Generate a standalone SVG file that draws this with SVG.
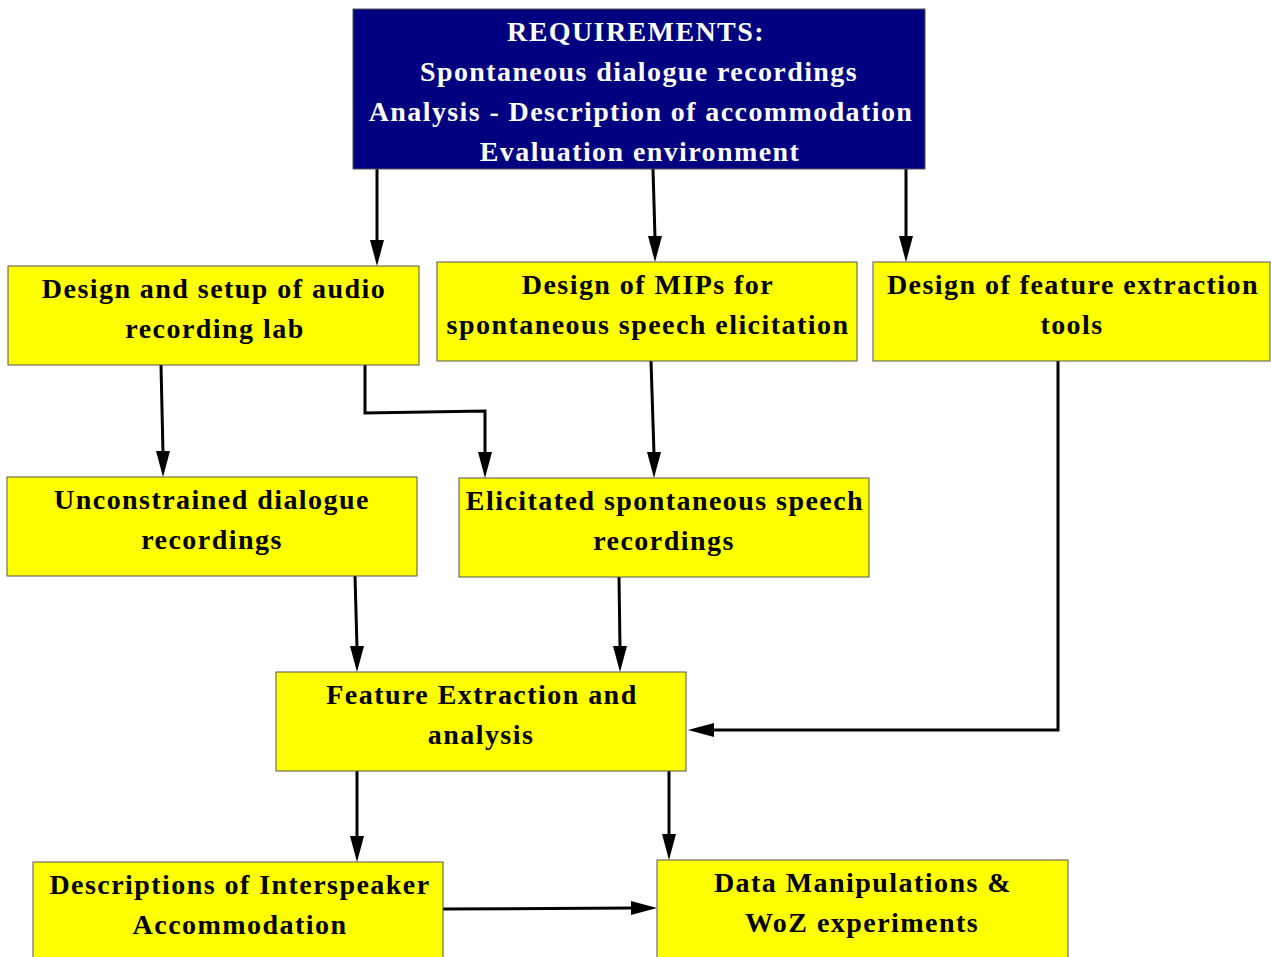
<svg xmlns="http://www.w3.org/2000/svg" width="1271" height="957" viewBox="0 0 1271 957">
<defs>
<style>
.box{fill:#ffff00;stroke:#555;stroke-width:1}
.top{fill:#000080;stroke:#555;stroke-width:1}
.t{font-family:"Liberation Serif",serif;font-weight:bold;font-size:28px;letter-spacing:1.45px;text-anchor:middle;fill:#000}
.tw{font-family:"Liberation Serif",serif;font-weight:bold;font-size:28px;letter-spacing:1.4px;text-anchor:middle;fill:#fff}
.c{fill:none;stroke:#000;stroke-width:3}
.h{fill:#000}
</style>
</defs>
<rect width="1271" height="957" fill="#fff"/>
<g id="connectors">
<line class="c" x1="377" y1="169" x2="377" y2="242"/><path class="h" d="M370,240 L384,240 L377,266 z"/>
<line class="c" x1="653" y1="169" x2="655" y2="238"/><path class="h" d="M648,236 L662,236 L655,262 z"/>
<line class="c" x1="906" y1="169" x2="906" y2="238"/><path class="h" d="M899,236 L913,236 L906,262 z"/>
<line class="c" x1="161" y1="365" x2="163" y2="453"/><path class="h" d="M156,451 L170,451 L163,477 z"/>
<polyline class="c" points="365,365 365,413 485,411 485,454"/><path class="h" d="M478,452 L492,452 L485,478 z"/>
<line class="c" x1="651" y1="361" x2="654" y2="454"/><path class="h" d="M647,452 L661,452 L654,478 z"/>
<polyline class="c" points="1058,361 1058,730 712,730"/><path class="h" d="M714,723 L714,737 L688,730 z"/>
<line class="c" x1="355" y1="576" x2="357" y2="648"/><path class="h" d="M350,646 L364,646 L357,672 z"/>
<line class="c" x1="619" y1="577" x2="620" y2="648"/><path class="h" d="M613,646 L627,646 L620,672 z"/>
<line class="c" x1="357" y1="771" x2="357" y2="838"/><path class="h" d="M350,836 L364,836 L357,862 z"/>
<line class="c" x1="669" y1="771" x2="669" y2="836"/><path class="h" d="M662,834 L676,834 L669,860 z"/>
<line class="c" x1="443" y1="909" x2="633" y2="908"/><path class="h" d="M631,901 L631,915 L657,908 z"/>
</g>
<g id="requirements">
<rect class="top" x="353" y="9" width="572" height="160"/>
<text class="tw" x="636" y="41">REQUIREMENTS:</text>
<text class="tw" x="639" y="81">Spontaneous dialogue recordings</text>
<text class="tw" x="641" y="121">Analysis - Description of accommodation</text>
<text class="tw" x="640" y="161">Evaluation environment</text>
</g>
<g id="lab">
<rect class="box" x="8" y="266" width="411" height="99"/>
<text class="t" x="214" y="298">Design and setup of audio</text>
<text class="t" x="215" y="338">recording lab</text>
</g>
<g id="mips">
<rect class="box" x="437" y="262" width="420" height="99"/>
<text class="t" x="648" y="294">Design of MIPs for</text>
<text class="t" x="648" y="334">spontaneous speech elicitation</text>
</g>
<g id="tools">
<rect class="box" x="873" y="262" width="397" height="99"/>
<text class="t" x="1073" y="294">Design of feature extraction</text>
<text class="t" x="1072" y="334">tools</text>
</g>
<g id="unconstrained">
<rect class="box" x="7" y="477" width="410" height="99"/>
<text class="t" x="212" y="509">Unconstrained dialogue</text>
<text class="t" x="212" y="549">recordings</text>
</g>
<g id="elicitated">
<rect class="box" x="459" y="478" width="410" height="99"/>
<text class="t" x="665" y="510">Elicitated spontaneous speech</text>
<text class="t" x="664" y="550">recordings</text>
</g>
<g id="feature">
<rect class="box" x="276" y="672" width="410" height="99"/>
<text class="t" x="482" y="704">Feature Extraction and</text>
<text class="t" x="481" y="744">analysis</text>
</g>
<g id="descriptions">
<rect class="box" x="33" y="862" width="410" height="110"/>
<text class="t" x="240" y="894">Descriptions of Interspeaker</text>
<text class="t" x="240" y="934">Accommodation</text>
</g>
<g id="data">
<rect class="box" x="657" y="860" width="411" height="110"/>
<text class="t" x="863" y="892">Data Manipulations &amp;</text>
<text class="t" x="862" y="932">WoZ experiments</text>
</g>
</svg>
